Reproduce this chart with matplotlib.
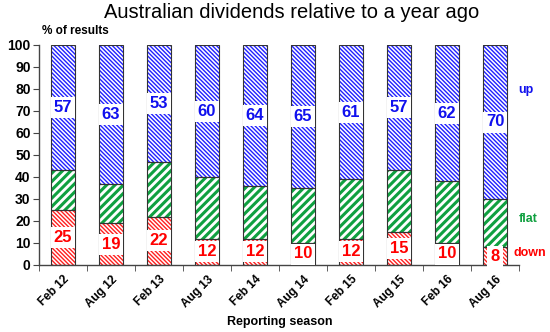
import matplotlib
matplotlib.use("Agg")
import matplotlib.pyplot as plt
import numpy as np

seasons = ["Feb 12", "Aug 12", "Feb 13", "Aug 13", "Feb 14", "Aug 14",
           "Feb 15", "Aug 15", "Feb 16", "Aug 16"]
down = [25, 19, 22, 12, 12, 10, 12, 15, 10, 8]
up = [57, 63, 53, 60, 64, 65, 61, 57, 62, 70]
flat = [100 - u - d for u, d in zip(up, down)]

plt.rcParams['font.family'] = ['Liberation Sans', 'DejaVu Sans']

fig = plt.figure(figsize=(5.5, 3.32), dpi=100)
ax = fig.add_axes([39/550, 1-265/332, 480/550, 220/332])

x = np.arange(len(seasons))
w = 0.48
d = np.array(down); f = np.array(flat); u = np.array(up)

def hbar(bottom, height, color, hatch, lw):
    bars = ax.bar(x, height, w, bottom=bottom, color='white', edgecolor=color,
                  hatch=hatch, linewidth=0, zorder=2)
    for b in bars:
        try:
            b.set_hatch_linewidth(lw)
        except AttributeError:
            pass
    ax.bar(x, height, w, bottom=bottom, fill=False, edgecolor='#333333',
           linewidth=0.8, zorder=3)
    return bars

hbar(0, d, '#ff2020', '\\' * 8, 1.0)
hbar(d, f, '#10a040', '////', 2.2)
hbar(d + f, u, '#2020ff', '\\' * 8, 1.0)

box = dict(boxstyle='square,pad=0.18', fc='white', ec='none')
for i in x:
    ax.text(i, d[i] / 2, str(down[i]), ha='center', va='center', color='#ff0000',
            fontsize=12, fontweight='semibold', bbox=box, zorder=4)
    ax.text(i, d[i] + f[i] + u[i] / 2, str(up[i]), ha='center', va='center',
            color='#1010ee', fontsize=12, fontweight='semibold', bbox=box, zorder=4)

ax.set_xlim(-0.5, len(seasons) - 0.5)
ax.set_ylim(0, 100)
ax.set_yticks(range(0, 101, 10))
ax.set_yticklabels([str(v) for v in range(0, 101, 10)], fontsize=10, fontweight='bold')
ax.set_xticks(x)
ax.set_xticklabels(seasons, rotation=45, ha='right', rotation_mode='anchor',
                   fontsize=8.5, fontweight='bold')
ax.tick_params(axis='x', length=0, pad=6)
ax.set_xticks(np.arange(-0.5, len(seasons)), minor=True)
ax.tick_params(axis='x', which='minor', length=4, color='#444444')
ax.tick_params(axis='y', length=4, color='#444444', pad=2)
for s in ['top', 'right']:
    ax.spines[s].set_visible(False)
for s in ['left', 'bottom']:
    ax.spines[s].set_color('#444444')
    ax.spines[s].set_linewidth(1.0)

fig.text(292/550, 1-13/332, "Australian dividends relative to a year ago",
         ha='center', va='center', fontsize=14.5)
fig.text(42/550, 1-31/332, "% of results", ha='left', va='center',
         fontsize=8.5, fontweight='bold')
fig.text(280/550, 1-322/332, "Reporting season", ha='center', va='center',
         fontsize=9, fontweight='bold')
fig.text(526/550, 1-90/332, "up", ha='center', va='center', fontsize=9,
         fontweight='bold', color='#1010ee')
fig.text(528/550, 1-219/332, "flat", ha='center', va='center', fontsize=9,
         fontweight='bold', color='#10a040')
fig.text(530/550, 1-253/332, "down", ha='center', va='center', fontsize=9,
         fontweight='bold', color='#ff0000')

fig.savefig("out.png", dpi=100)
